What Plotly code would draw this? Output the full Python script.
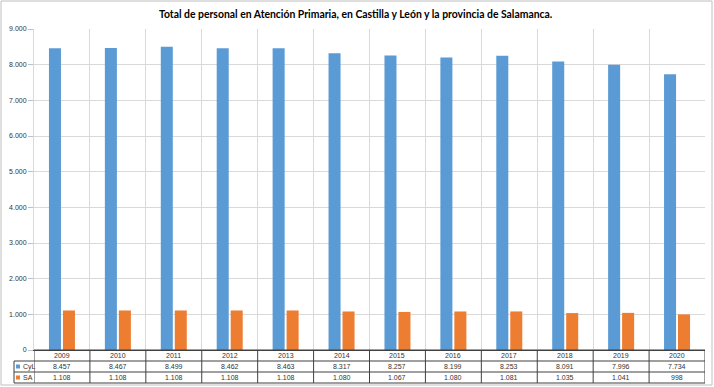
import plotly.graph_objects as go

years = ["2009", "2010", "2011", "2012", "2013", "2014", "2015", "2016", "2017", "2018", "2019", "2020"]
cyl = [8457, 8467, 8499, 8462, 8463, 8317, 8257, 8199, 8253, 8091, 7996, 7734]
sa = [1108, 1108, 1108, 1108, 1108, 1080, 1067, 1080, 1081, 1035, 1041, 998]
series_names = ["CyL", "SA"]
colors = ["#5B9BD5", "#ED7D31"]
title = "Total de personal en Atención Primaria, en Castilla y León y la provincia de Salamanca."

W, H = 714, 387
L, R, T, B = 34, 9, 29, 37
pw, ph = W - L - R, H - T - B


def px_x(x):
    return (x - L) / pw


def px_y(y):
    return (H - B - y) / ph


def fmt(v):
    return f"{v:,}".replace(",", ".")


fig = go.Figure()
for name, vals, c in zip(series_names, [cyl, sa], colors):
    fig.add_trace(go.Bar(x=years, y=vals, name=name, marker=dict(color=c, line=dict(width=0))))

shapes = []
annotations = []
line_col = "#404040"
row_edges = [350, 361, 372, 383]
for i, yy in enumerate(row_edges):
    x0 = 0 if i == 0 else px_x(14)
    shapes.append(dict(type="line", xref="paper", yref="paper", x0=x0, x1=1,
                       y0=px_y(yy), y1=px_y(yy), line=dict(color=line_col, width=1)))
for i in range(len(years) + 1):
    shapes.append(dict(type="line", xref="x", yref="paper", x0=i - 0.5, x1=i - 0.5,
                       y0=px_y(350), y1=px_y(383), line=dict(color=line_col, width=1)))
shapes.append(dict(type="line", xref="paper", yref="paper", x0=px_x(14), x1=px_x(14),
                   y0=px_y(361), y1=px_y(383), line=dict(color=line_col, width=1)))
shapes.append(dict(type="rect", xref="paper", yref="paper", x0=px_x(1), x1=px_x(712),
                   y0=px_y(1), y1=px_y(385), line=dict(color="#bfbfbf", width=1)))

tfont = dict(family="Liberation Sans, Arial", size=7, color="#333333")
for j, yr in enumerate(years):
    for yc, txt in [(355.5, yr), (366.5, fmt(cyl[j])), (377.5, fmt(sa[j]))]:
        annotations.append(dict(x=j, xref="x", yref="paper", y=px_y(yc), text=txt,
                                showarrow=False, font=tfont, xanchor="center", yanchor="middle"))
for k, (name, c) in enumerate(zip(series_names, colors)):
    yc = 366.5 + 11 * k
    shapes.append(dict(type="rect", xref="paper", yref="paper", x0=px_x(16), x1=px_x(20),
                       y0=px_y(yc + 2), y1=px_y(yc - 2), fillcolor=c, line=dict(width=0)))
    annotations.append(dict(x=px_x(21), xref="paper", yref="paper", y=px_y(yc), text=name,
                            showarrow=False, font=tfont, xanchor="left", yanchor="middle"))

annotations.append(dict(x=px_x(356), xref="paper", y=px_y(14), yref="paper", text=f"<b>{title}</b>",
                        showarrow=False, xanchor="center", yanchor="middle",
                        font=dict(family="Lato, Open Sans", size=10.4, color="#000000")))

fig.update_layout(
    width=W, height=H,
    margin=dict(l=L, r=R, t=T, b=B, pad=0),
    paper_bgcolor="white", plot_bgcolor="white",
    barmode="group", bargap=0.5, bargroupgap=0.14,
    separators=",.",
    showlegend=False,
    shapes=shapes, annotations=annotations,
    xaxis=dict(type="category", range=[-0.5, 11.5], showticklabels=False, ticks="",
               tickson="boundaries", showgrid=True, gridcolor="#d9d9d9", gridwidth=1,
               showline=True, linecolor=line_col, linewidth=1, zeroline=False),
    yaxis=dict(range=[0, 9000], dtick=1000, tickformat=",.0f", showgrid=True,
               gridcolor="#d9d9d9", gridwidth=1, zeroline=False, ticks="outside",
               ticklen=5, tickcolor="#bfbfbf", showline=True, linecolor="#d9d9d9",
               tickfont=dict(family="Liberation Sans, Arial", size=7, color="#333333")),
)

fig.write_html("out.html", config={"displayModeBar": False},
               post_script="document.body.style.margin='0';")
